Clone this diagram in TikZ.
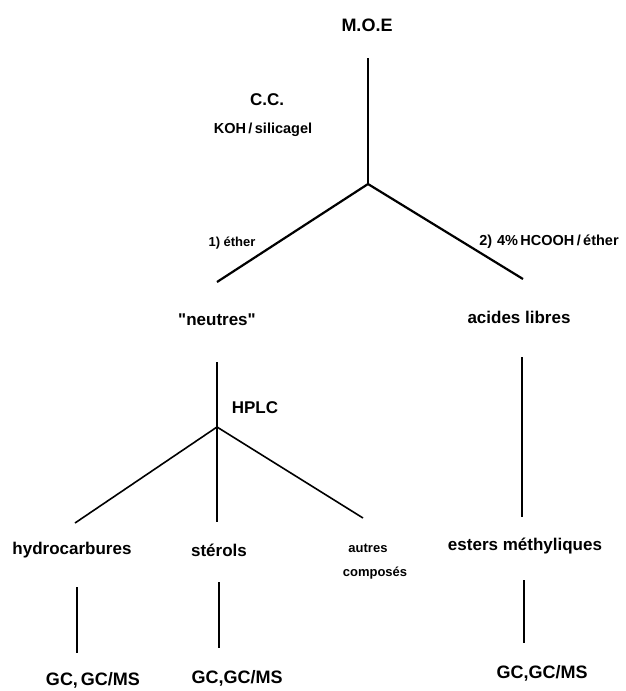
\documentclass[tikz,border=0pt]{standalone}
\usepackage{fontspec}
\setmainfont{Liberation Sans}
\usepackage{tikz}
\usetikzlibrary{calc}
\newcommand{\lablnode}[5]{\node[#1,inner sep=0pt] (#2) at ( #3 , #4 ) {#5};}
\newcommand{\junction}[3]{\coordinate (#1) at ( #2 , #3 );}
\newcommand{\branch}[2]{\draw (#1) -- (#2);}
\tikzset{
  big/.style={font=\bfseries\fontsize{17}{17}\selectfont},
  mid/.style={font=\bfseries\fontsize{14.5}{14.5}\selectfont},
  small/.style={font=\bfseries\fontsize{13}{13}\selectfont},
  gcms/.style={font=\bfseries\fontsize{18}{18}\selectfont},
  thin/.style={line width=1.6pt}
}

\begin{document}
\begin{tikzpicture}[x=1pt,y=-1pt,line width=2.2pt]
                \useasboundingbox (0,0) rectangle (626,691);
                % top
                \lablnode{gcms}{moe}{367}{25}{M.O.E}
                \lablnode{big}{cc}{267}{100}{C.C.}
                \lablnode{mid}{koh}{263}{130}{KOH\,/\,silicagel}
                % first split
                \junction{moetop}{368}{58}
                \junction{split}{368}{184}
                \junction{neuend}{217}{282}
                \junction{acend}{523}{279}
                \branch{moetop}{split}
                \branch{split}{neuend}
                \branch{split}{acend}
                % eluents
                \lablnode{small}{ether}{232}{243}{1) éther}
                \lablnode{mid}{hcooh}{549}{242}{2)\,\,4\%\,HCOOH\,/\,éther}
                % fractions
                \lablnode{big}{neutres}{217}{320}{\textquotedbl neutres\textquotedbl}
                \lablnode{big}{acides}{519}{317}{acides libres}
                % HPLC split
                \junction{neutop}{217}{362}
                \junction{hplcsplit}{217}{427}
                \junction{hydend}{75}{523}
                \junction{stend}{217}{522}
                \junction{autend}{363}{518}
                \begin{scope}[thin]
                \branch{neutop}{hplcsplit}
                \branch{hplcsplit}{hydend}
                \branch{hplcsplit}{stend}
                \branch{hplcsplit}{autend}
                \end{scope}
                \lablnode{big}{hplc}{255}{408}{HPLC}
                % methylation
                \junction{actop}{522}{357}
                \junction{acbot}{522}{517}
                \branch{actop}{acbot}
                % sub-fractions
                \lablnode{big}{hydro}{72}{550}{hydrocarbures}
                \lablnode{big}{sterols}{219}{550}{stérols}
                \lablnode{small}{autres}{368}{548}{autres}
                \lablnode{small}{composes}{375}{573}{composés}
                \lablnode{big}{esters}{525}{546}{esters méthyliques}
                % analysis lines
                \junction{hydtop}{77}{587}
                \junction{hydbot}{77}{653}
                \junction{sttop}{219}{582}
                \junction{stbot}{219}{648}
                \junction{estop}{524}{580}
                \junction{esbot}{524}{643}
                \begin{scope}[thin]
                \branch{hydtop}{hydbot}
                \branch{sttop}{stbot}
                \branch{estop}{esbot}
                \end{scope}
                % GC, GC/MS
                \lablnode{gcms}{gc1}{93}{680}{GC,\,GC/MS}
                \lablnode{gcms}{gc2}{237}{678}{GC,GC/MS}
                \lablnode{gcms}{gc3}{542}{673}{GC,GC/MS}
            \end{tikzpicture}
\end{document}
